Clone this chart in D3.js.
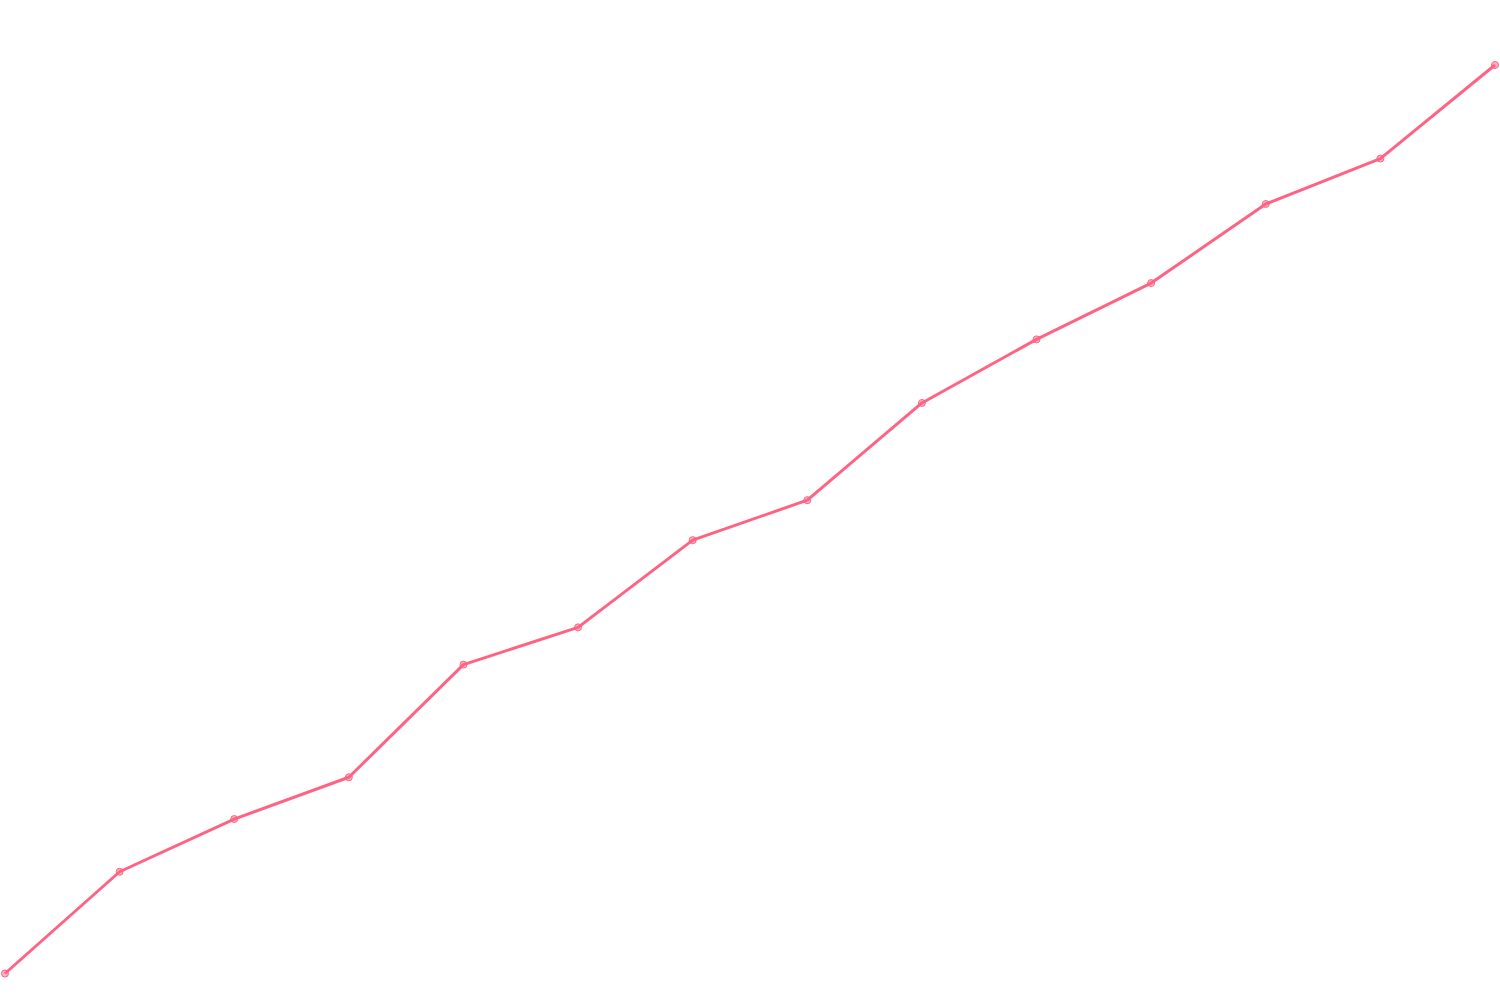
<!DOCTYPE html>
<html>
<head>
<meta charset="utf-8">
<script src="https://cdn.jsdelivr.net/npm/d3@7"></script>
<style>
    html, body { margin: 0; padding: 0; background: #fff; }
    svg { display: block; }
</style>
</head>
<body>
<svg></svg>
<script>
const categories = ["1", "2", "3", "4", "5", "6", "7", "8", "9", "10", "11", "12", "13", "14"];
const values = [0, 11.2, 17, 21.6, 34, 38.1, 47.7, 52.1, 62.8, 69.8, 76, 84.7, 89.7, 100];

const width = 1500,
    height = 1000;
const lineColor = "#ff6384";

const svg = d3.select("svg").attr("width", width).attr("height", height);

const xScale = d3.scalePoint().domain(categories).range([5, 1495]);
const yScale = d3.scaleLinear().domain([0, 100]).range([973.5, 65]);

const data = categories.map((c, i) => ({ cat: c, value: values[i] }));

const line = d3
    .line()
    .x((d) => xScale(d.cat))
    .y((d) => yScale(d.value));

svg.append("path")
    .datum(data)
    .attr("fill", "none")
    .attr("stroke", lineColor)
    .attr("stroke-width", 3)
    .attr("stroke-linejoin", "round")
    .attr("d", line);

svg.selectAll("circle")
    .data(data)
    .enter()
    .append("circle")
    .attr("cx", (d) => xScale(d.cat))
    .attr("cy", (d) => yScale(d.value))
    .attr("r", 3.5)
    .attr("fill", "rgba(255, 99, 132, 0.5)")
    .attr("stroke", lineColor)
    .attr("stroke-width", 1);
</script>
</body>
</html>
